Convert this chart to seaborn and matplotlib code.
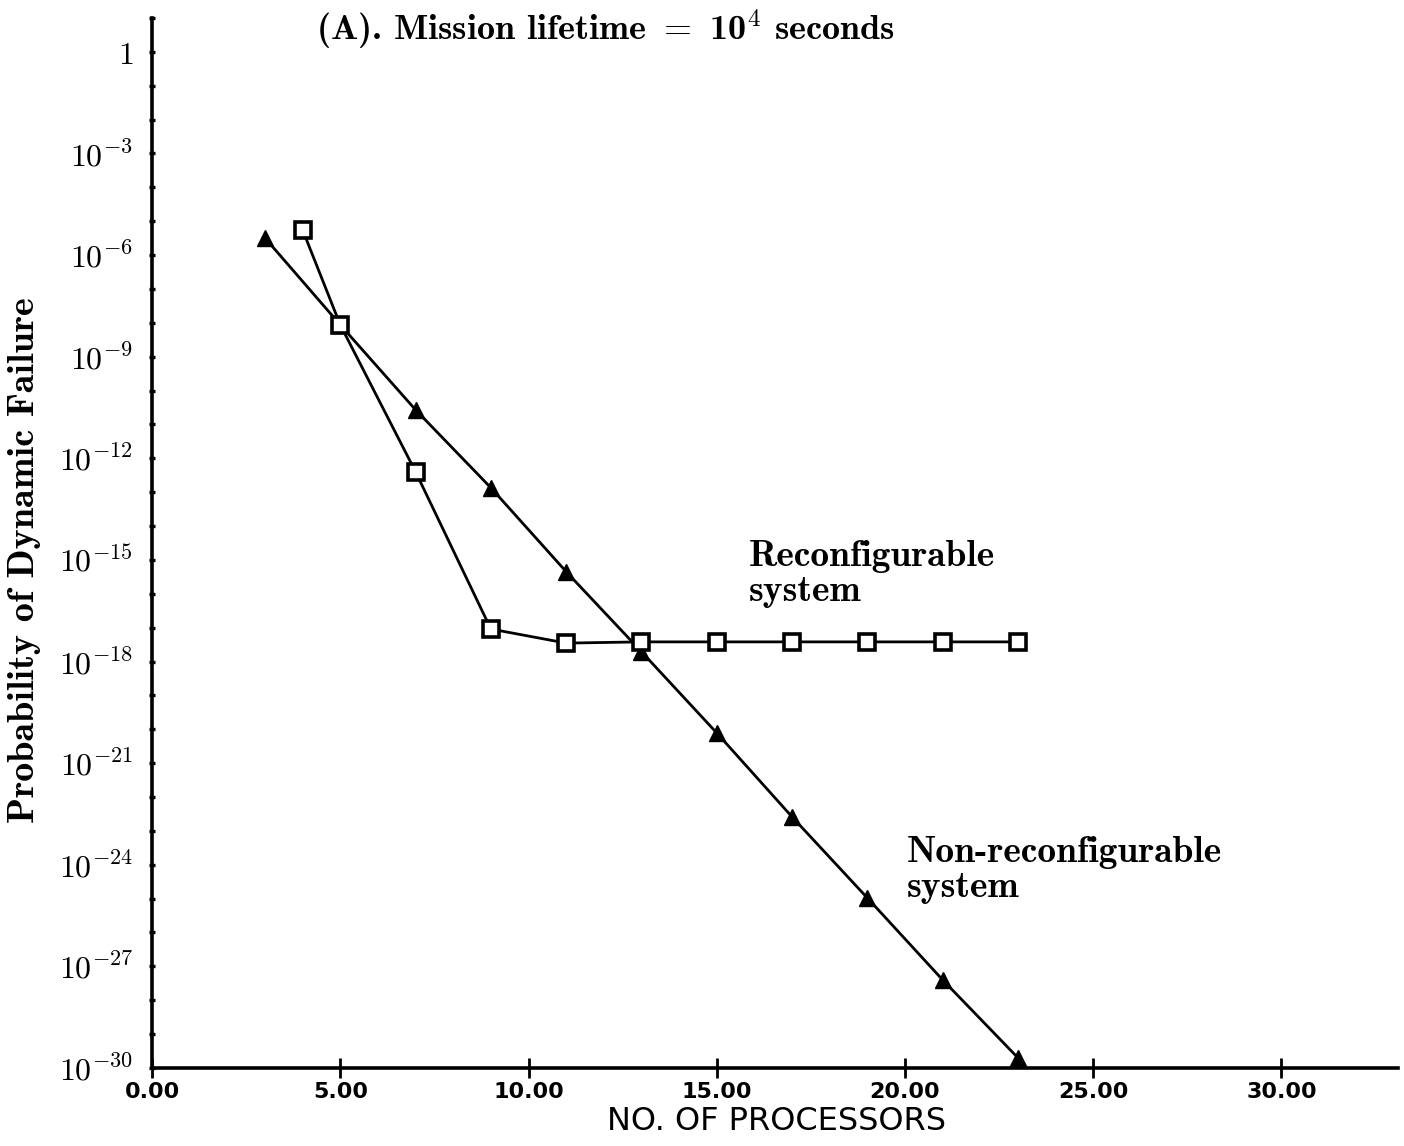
import matplotlib
matplotlib.use("Agg")
import matplotlib.pyplot as plt
import matplotlib.ticker as mticker
import seaborn as sns

# ---- data ----
x_nonreconf = [3, 5, 7, 9, 11, 13, 15, 17, 19, 21, 23]
p_nonreconf = [3.2e-6, 8.7e-9, 2.7e-11, 1.35e-13, 4.5e-16, 1.95e-18,
               7.8e-21, 2.6e-23, 1.05e-25, 4.0e-28, 2.0e-30]

x_reconf = [4, 5, 7, 9, 11, 13, 15, 17, 19, 21, 23]
p_reconf = [5.5e-6, 8.7e-9, 4.0e-13, 9.1e-18, 3.5e-18, 3.8e-18,
            3.8e-18, 3.8e-18, 3.8e-18, 3.8e-18, 3.8e-18]

x_ticks = [0, 5, 10, 15, 20, 25, 30]
x_tick_labels = ["0.00", "5.00", "10.00", "15.00", "20.00", "25.00", "30.00"]
y_major_exps = [0, -3, -6, -9, -12, -15, -18, -21, -24, -27, -30]

sns.set_theme(style="white")
plt.rcParams["mathtext.fontset"] = "cm"
plt.rcParams["font.family"] = ["DejaVu Sans"]
plt.rcParams["text.color"] = "black"
plt.rcParams["axes.labelcolor"] = "black"
plt.rcParams["xtick.color"] = "black"
plt.rcParams["ytick.color"] = "black"

fig = plt.figure(figsize=(14.04, 11.46), dpi=100)
ax = fig.add_axes([0.1083, 0.0681, 0.8875, 0.9162])

sns.lineplot(x=x_nonreconf, y=p_nonreconf, ax=ax, color="black", lw=2.0,
             marker="^", markersize=12, markerfacecolor="black",
             markeredgecolor="black", markeredgewidth=1.0, sort=False)
sns.lineplot(x=x_reconf, y=p_reconf, ax=ax, color="black", lw=2.0,
             marker="s", markersize=11, markerfacecolor="white",
             markeredgecolor="black", markeredgewidth=2.6, sort=False)

ax.set_yscale("log")
ax.set_xlim(0, 33.1)
ax.set_ylim(1e-30, 1e1)

for s in ["top", "right"]:
    ax.spines[s].set_visible(False)
for s in ["left", "bottom"]:
    ax.spines[s].set_linewidth(2.6)
    ax.spines[s].set_color("black")

# x ticks
ax.set_xticks(x_ticks)
ax.set_xticklabels(x_tick_labels, family="DejaVu Sans",
                   fontweight="bold", fontsize=16)
ax.tick_params(axis="x", which="major", bottom=True, direction="inout",
               length=14, width=2.0, pad=3, colors="black")

# y ticks: every decade a small tick, labels every 3 decades
ax.yaxis.set_major_locator(mticker.FixedLocator([10.0 ** e for e in y_major_exps]))
ax.yaxis.set_minor_locator(mticker.FixedLocator([10.0 ** e for e in range(-30, 2)]))
ylabels = ["$1$" if e == 0 else "$10^{%d}$" % e for e in y_major_exps]
ax.set_yticklabels(ylabels, fontsize=23)
ax.yaxis.set_minor_formatter(mticker.NullFormatter())
ax.tick_params(axis="y", which="both", left=True, direction="inout",
               length=5, width=2.4, pad=11, colors="black")

# axis labels
ax.set_xlabel("NO. OF PROCESSORS", family="DejaVu Sans",
              fontsize=23, va="center")
ax.xaxis.set_label_coords(0.5008, -0.0514)
ax.set_ylabel("Probability of Dynamic Failure", family="cmb10",
              fontsize=27.5, va="center")
ax.yaxis.set_label_coords(-0.102, 0.484)

# title & annotations
fig.text(605 / 1404, 1 - 30 / 1146,
         "(A). Mission lifetime $=$ 10$^4$ seconds",
         family="cmb10", fontsize=26, ha="center", va="center")
ax.text(15.85, 3.9e-16, "Reconfigurable\nsystem", family="cmb10",
        fontsize=27, ha="left", va="center", linespacing=1.08)
ax.text(20.05, 7e-25, "Non-reconfigurable\nsystem", family="cmb10",
        fontsize=27, ha="left", va="center", linespacing=1.08)

fig.savefig("out.png", dpi=100, facecolor="white")
